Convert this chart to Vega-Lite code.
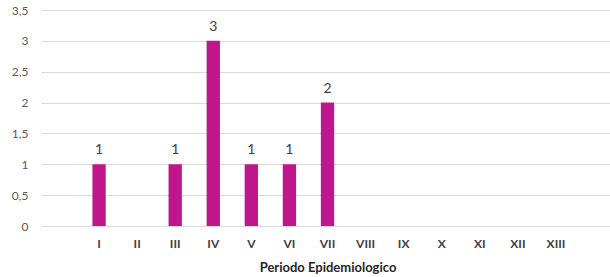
{
  "$schema": "https://vega.github.io/schema/vega-lite/v6.json",
  "width": 573,
  "height": 216,
  "autosize": "none",
  "padding": {"left": 41, "top": 10, "right": -4, "bottom": 51},
  "background": "white",
  "config": {"view": {"stroke": null}, "font": "Lato"},
  "data": {"values": [
    {"periodo": "I", "casos": 1},
    {"periodo": "II", "casos": 0},
    {"periodo": "III", "casos": 1},
    {"periodo": "IV", "casos": 3},
    {"periodo": "V", "casos": 1},
    {"periodo": "VI", "casos": 1},
    {"periodo": "VII", "casos": 2},
    {"periodo": "VIII", "casos": 0},
    {"periodo": "IX", "casos": 0},
    {"periodo": "X", "casos": 0},
    {"periodo": "XI", "casos": 0},
    {"periodo": "XII", "casos": 0},
    {"periodo": "XIII", "casos": 0}
  ]},
  "encoding": {
    "x": {
      "field": "periodo", "type": "nominal", "sort": null,
      "scale": {
        "domain": [" ", "I", "II", "III", "IV", "V", "VI", "VII", "VIII", "IX", "X", "XI", "XII", "XIII", "  "],
        "paddingInner": 0.65, "paddingOuter": 0.35
      },
      "axis": {
        "title": "Periodo Epidemiologico", "titleFontSize": 13, "titleFontWeight": "bold", "titleColor": "#262626", "titlePadding": 12,
        "labelAngle": 0, "labelFontWeight": "bold", "labelFontSize": 12, "labelColor": "#404040", "labelPadding": 12,
        "ticks": false, "domain": false, "grid": false
      }
    },
    "y": {
      "field": "casos", "type": "quantitative",
      "scale": {"domain": [0, 3.5], "nice": false},
      "axis": {
        "title": null, "values": [0, 0.5, 1, 1.5, 2, 2.5, 3, 3.5], "format": ".1~f",
        "labelExpr": "replace(datum.label, '.', ',')",
        "labelFontSize": 12, "labelColor": "#595959", "labelPadding": 13,
        "ticks": false, "domain": false, "grid": true, "gridColor": "#d9d9d9", "gridWidth": 1
      }
    }
  },
  "layer": [
    {"mark": {"type": "bar", "color": "#C0168C"}},
    {
      "transform": [{"filter": "datum.casos > 0"}],
      "mark": {"type": "text", "baseline": "alphabetic", "dy": -10, "fontSize": 14, "color": "#404040"},
      "encoding": {"text": {"field": "casos", "type": "quantitative"}}
    }
  ]
}
